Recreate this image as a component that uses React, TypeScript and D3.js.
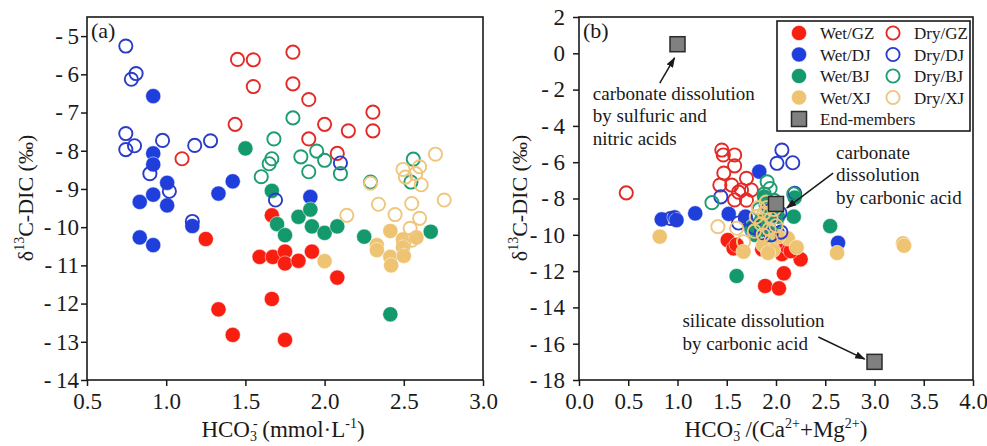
import * as d3 from "d3";
import { useEffect, useRef } from "react";

type Pt = [number, number];

// ---- panel (a): HCO3- (mmol/L) vs d13C-DIC ----
const aWetGZ: Pt[] = [
  [1.25, -10.31], [1.667, -9.69], [1.59, -10.78], [1.673, -10.78], [1.75, -10.64],
  [1.75, -10.95], [1.835, -10.88], [1.92, -10.64], [2.08, -11.32], [1.667, -11.88],
  [1.33, -12.15], [1.42, -12.82], [1.75, -12.95],
];
const aDryGZ: Pt[] = [
  [1.45, -5.61], [1.55, -5.62], [1.55, -6.32], [1.8, -5.42], [1.8, -6.25],
  [1.9, -6.66], [1.435, -7.31], [1.1, -8.21], [1.9, -7.69], [2.0, -7.31],
  [2.15, -7.48], [2.305, -6.99], [2.305, -7.48], [2.08, -8.07],
];
const aWetDJ: Pt[] = [
  [0.918, -6.57], [0.918, -8.07], [0.918, -8.36], [0.833, -9.34], [0.918, -9.15],
  [1.006, -8.84], [1.006, -9.43], [0.833, -10.27], [0.918, -10.47], [1.165, -9.97],
  [1.33, -9.12], [1.42, -8.8], [1.91, -9.21],
];
const aDryDJ: Pt[] = [
  [0.745, -5.26], [0.78, -6.13], [0.81, -5.98], [0.745, -7.55], [0.745, -7.97],
  [0.8, -7.87], [0.977, -7.73], [1.18, -7.86], [1.28, -7.74], [0.897, -8.6],
  [1.02, -9.06], [1.69, -9.29], [2.1, -8.32], [1.165, -9.85],
];
const aWetBJ: Pt[] = [
  [1.5, -7.94], [1.667, -9.05], [1.7, -9.92], [1.75, -10.21], [1.835, -9.73],
  [1.91, -9.54], [1.92, -9.98], [2.0, -10.15], [2.08, -9.98], [2.25, -10.25],
  [2.67, -10.12], [2.415, -12.28],
];
const aDryBJ: Pt[] = [
  [1.8, -7.14], [1.68, -7.69], [1.667, -8.21], [1.65, -8.34], [1.6, -8.68],
  [1.85, -8.16], [1.95, -8.01], [2.0, -8.25], [1.9, -8.55], [2.1, -8.6],
  [2.29, -8.82], [2.56, -8.22], [2.545, -8.82],
];
const aWetXJ: Pt[] = [
  [2.0, -10.89], [2.33, -10.47], [2.33, -10.6], [2.415, -10.1], [2.415, -10.78],
  [2.42, -11.0], [2.495, -10.32], [2.495, -10.53], [2.5, -10.75], [2.58, -10.27],
];
const aDryXJ: Pt[] = [
  [2.14, -9.69], [2.29, -8.85], [2.34, -9.4], [2.445, -9.67], [2.495, -8.49],
  [2.51, -8.69], [2.575, -8.6], [2.6, -8.42], [2.61, -8.89], [2.7, -8.09],
  [2.755, -9.29], [2.55, -9.38], [2.6, -9.77], [2.54, -10.03], [2.55, -10.34],
  [2.5, -10.43],
];

// ---- panel (b): HCO3-/(Ca2+ + Mg2+) vs d13C-DIC ----
const bWetGZ: Pt[] = [
  [1.51, -10.29], [1.57, -10.75], [2.25, -11.35], [2.08, -12.12], [1.89, -12.82],
  [2.03, -12.95], [2.06, -11.06], [1.6, -10.55], [1.95, -10.7], [1.86, -10.8],
  [2.1, -10.6], [2.0, -10.45], [2.15, -10.9],
];
const bDryGZ: Pt[] = [
  [0.48, -7.69], [1.45, -5.33], [1.465, -5.6], [1.58, -5.6], [1.58, -6.2],
  [1.47, -6.6], [1.43, -7.26], [1.55, -7.26], [1.7, -6.89], [1.65, -7.53],
  [1.75, -7.53], [1.58, -8.08], [1.7, -8.09], [1.62, -7.65],
];
const bWetDJ: Pt[] = [
  [0.84, -9.15], [0.97, -9.04], [0.99, -9.19], [1.18, -8.82], [1.52, -8.85],
  [1.83, -6.52], [2.63, -10.44], [1.69, -9.0], [1.77, -9.5], [1.87, -9.74],
  [2.02, -9.93], [1.75, -9.7], [1.9, -8.3],
];
const bDryDJ: Pt[] = [
  [2.06, -5.33], [2.01, -6.06], [2.17, -6.03], [2.19, -7.71], [1.44, -7.91],
  [0.93, -9.1], [2.04, -8.8], [1.69, -9.1], [1.78, -9.6], [1.85, -9.9],
  [2.05, -9.85], [1.95, -10.0], [1.62, -9.35], [1.97, -8.9],
];
const bWetBJ: Pt[] = [
  [1.6, -12.27], [2.55, -9.52], [2.18, -9.0], [2.19, -7.95], [1.79, -10.01],
  [1.75, -9.6], [1.9, -9.8], [1.96, -10.15], [1.85, -9.3], [2.02, -9.0],
  [1.88, -7.9], [1.93, -10.4],
];
const bDryBJ: Pt[] = [
  [1.35, -8.23], [1.91, -7.08], [1.94, -7.45], [1.88, -7.75], [2.18, -7.75],
  [1.9, -8.4], [1.96, -8.7], [1.85, -9.2], [1.92, -9.5], [2.0, -9.3],
  [1.98, -8.1], [1.83, -8.6],
];
const bWetXJ: Pt[] = [
  [0.82, -10.1], [3.29, -10.47], [3.3, -10.6], [2.62, -11.0], [1.67, -10.93],
  [1.87, -10.56], [1.97, -10.84], [2.12, -10.2], [2.21, -10.69], [2.02, -10.1],
  [1.92, -11.0],
];
const bDryXJ: Pt[] = [
  [1.41, -9.55], [1.6, -9.64], [1.67, -10.38], [1.82, -8.5], [1.88, -8.8],
  [1.95, -9.1], [1.85, -9.4], [1.93, -9.7], [1.9, -8.2], [1.98, -8.6],
  [1.8, -9.0], [2.0, -9.5], [1.87, -10.0], [1.95, -10.3], [1.78, -9.8],
  [1.91, -8.5],
];
const endMembers: Pt[] = [[1, 0.5], [2, -8.3], [3, -17]];

// tick labels
const aXTicks = [0.5, 1.0, 1.5, 2.0, 2.5, 3.0];
const aYTicks = [-14, -13, -12, -11, -10, -9, -8, -7, -6, -5];
const bXTicks = [0, 0.5, 1.0, 1.5, 2.0, 2.5, 3.0, 3.5, 4.0];
const bYTicks = [-18, -16, -14, -12, -10, -8, -6, -4, -2, 0, 2];

const FONT = '"Liberation Serif", "Times New Roman", serif';
const INK = "#1a1a1a";

const series = [
  { name: "Wet/GZ", a: aWetGZ, b: bWetGZ, color: "#f81e10", filled: true },
  { name: "Wet/DJ", a: aWetDJ, b: bWetDJ, color: "#1f3fdc", filled: true },
  { name: "Wet/BJ", a: aWetBJ, b: bWetBJ, color: "#13996b", filled: true },
  { name: "Wet/XJ", a: aWetXJ, b: bWetXJ, color: "#eec371", filled: true },
  { name: "Dry/GZ", a: aDryGZ, b: bDryGZ, color: "#e42a26", filled: false },
  { name: "Dry/DJ", a: aDryDJ, b: bDryDJ, color: "#2a3cc8", filled: false },
  { name: "Dry/BJ", a: aDryBJ, b: bDryBJ, color: "#1e9c72", filled: false },
  { name: "Dry/XJ", a: aDryXJ, b: bDryXJ, color: "#efc67c", filled: false },
];

const yFmt = (d: number) => (d < 0 ? `-\u2009${Math.abs(d)}` : `${d}`);

function dot(g: any, cx: number, cy: number, color: string, filled: boolean) {
  if (filled) {
    g.append("circle").attr("cx", cx).attr("cy", cy).attr("r", 7.6)
      .attr("fill", color).attr("stroke", "#fff").attr("stroke-opacity", 0.5).attr("stroke-width", 1);
  } else {
    g.append("circle").attr("cx", cx).attr("cy", cy).attr("r", 6.6)
      .attr("fill", "none").attr("stroke", color).attr("stroke-width", 1.9);
  }
}

function panel(svg: any, box: number[], xd: number[], yd: number[], xTicks: number[], yTicks: number[], yPad: number) {
  const [l, t, r, b] = box;
  const x = d3.scaleLinear().domain(xd).range([l, r]);
  const y = d3.scaleLinear().domain(yd).range([b, t]);

  const gx = svg.append("g").attr("transform", `translate(0,${b})`)
    .call(d3.axisBottom(x).tickValues(xTicks).tickFormat(d3.format(".1f")).tickSize(6).tickPadding(7).tickSizeOuter(0));
  const gy = svg.append("g").attr("transform", `translate(${l},0)`)
    .call(d3.axisLeft(y).tickValues(yTicks).tickFormat(yFmt as any).tickSize(6).tickPadding(yPad).tickSizeOuter(0));
  [gx, gy].forEach((g) => {
    g.select(".domain").remove();
    g.selectAll("line").attr("stroke", INK).attr("stroke-width", 1.5);
    g.selectAll("text").attr("font-family", FONT).attr("font-size", 23).attr("fill", INK);
  });

  svg.append("rect").attr("x", l).attr("y", t).attr("width", r - l).attr("height", b - t)
    .attr("fill", "none").attr("stroke", INK).attr("stroke-width", 1.6);
  return { x, y };
}

function yTitle(svg: any, cx: number, cy: number) {
  const t = svg.append("text").attr("transform", `translate(${cx},${cy}) rotate(-90)`)
    .attr("text-anchor", "middle").attr("font-family", FONT).attr("font-size", 22).attr("fill", INK);
  t.append("tspan").text("δ");
  t.append("tspan").attr("font-size", 14).attr("dy", -9).text("13");
  t.append("tspan").attr("dy", 9).text("C-DIC (‰)");
}

// HCO3- with the subscript 3 and the charge stacked
function hco3(t: any) {
  t.append("tspan").text("HCO");
  t.append("tspan").attr("font-size", 14).attr("dy", 4).text("3");
  t.append("tspan").attr("font-size", 14).attr("dx", -4).attr("dy", -13).text("-");
  t.append("tspan").attr("dy", 9).text("\u2009");
}

const App = () => {
  const ref = useRef<SVGSVGElement>(null);

  useEffect(() => {
    const svg = d3.select(ref.current);
    svg.selectAll("*").remove();

    const defs = svg.append("defs");
    defs.append("marker").attr("id", "arrow").attr("viewBox", "0 0 10 10")
      .attr("refX", 9).attr("refY", 5).attr("markerWidth", 7).attr("markerHeight", 7)
      .attr("orient", "auto")
      .append("path").attr("d", "M0,1.5 L10,5 L0,8.5 z").attr("fill", INK);

    // ---------- (a) ----------
    const A = panel(svg, [87, 17, 483, 380], [0.5, 3], [-14, -4.5], aXTicks, aYTicks, 2);
    series.forEach((s) => {
      const g = svg.append("g");
      s.a.forEach((d) => dot(g, A.x(d[0]), A.y(d[1]), s.color, s.filled));
    });
    svg.append("text").attr("x", 91).attr("y", 38).attr("font-family", FONT).attr("font-size", 22)
      .attr("fill", INK).text("(a)");
    const ax = svg.append("text").attr("x", 283).attr("y", 437).attr("text-anchor", "middle")
      .attr("font-family", FONT).attr("font-size", 23).attr("fill", INK);
    hco3(ax);
    ax.append("tspan").text("(mmol·L");
    ax.append("tspan").attr("font-size", 14).attr("dy", -9).text("-1");
    ax.append("tspan").attr("dy", 9).text(")");
    yTitle(svg, 33, 198);

    // ---------- (b) ----------
    const B = panel(svg, [579, 17, 973, 380], [0, 4], [-18, 2], bXTicks, bYTicks, 8);
    series.forEach((s) => {
      const g = svg.append("g");
      s.b.forEach((d) => dot(g, B.x(d[0]), B.y(d[1]), s.color, s.filled));
    });
    svg.append("g").selectAll("rect").data(endMembers).join("rect")
      .attr("x", (d: Pt) => B.x(d[0]) - 7.5).attr("y", (d: Pt) => B.y(d[1]) - 7.5)
      .attr("width", 15).attr("height", 15)
      .attr("fill", "#808080").attr("stroke", "#2a2a2a").attr("stroke-width", 1.5);

    svg.append("text").attr("x", 583).attr("y", 38).attr("font-family", FONT).attr("font-size", 22)
      .attr("fill", INK).text("(b)");

    // annotations
    const note = (x0: number, y0: number, lines: string[]) => {
      const t = svg.append("text").attr("font-family", FONT).attr("font-size", 19).attr("fill", INK);
      lines.forEach((ln, i) => {
        t.append("tspan").attr("x", B.x(x0)).attr("y", B.y(y0) + i * 22.5).text(ln);
      });
    };
    note(0.14, -2.57, ["carbonate dissolution", "by sulfuric and", "nitric acids"]);
    note(2.61, -5.82, ["carbonate", "dissolution", "by carbonic acid"]);
    note(1.05, -15.08, ["silicate dissolution", "by carbonic acid"]);

    const arrows: [Pt, Pt][] = [
      [[0.82, -1.64], [0.97, -0.25]],
      [[2.58, -6.6], [2.11, -8.52]],
      [[2.43, -15.63], [2.9, -16.85]],
    ];
    arrows.forEach(([p0, p1]) => {
      svg.append("line").attr("x1", B.x(p0[0])).attr("y1", B.y(p0[1]))
        .attr("x2", B.x(p1[0])).attr("y2", B.y(p1[1]))
        .attr("stroke", INK).attr("stroke-width", 1.5).attr("marker-end", "url(#arrow)");
    });

    const bx = svg.append("text").attr("x", 776).attr("y", 437).attr("text-anchor", "middle")
      .attr("font-family", FONT).attr("font-size", 23).attr("fill", INK);
    hco3(bx);
    bx.append("tspan").text("/(Ca");
    bx.append("tspan").attr("font-size", 14).attr("dy", -9).text("2+");
    bx.append("tspan").attr("dy", 9).text("+Mg");
    bx.append("tspan").attr("font-size", 14).attr("dy", -9).text("2+");
    bx.append("tspan").attr("dy", 9).text(")");
    yTitle(svg, 527, 198);

    // legend
    const lg = svg.append("g");
    lg.append("rect").attr("x", 777).attr("y", 21).attr("width", 193).attr("height", 110)
      .attr("fill", "#fff").attr("stroke", INK).attr("stroke-width", 1.6);
    const wet = series.filter((s) => s.filled);
    const dry = series.filter((s) => !s.filled);
    wet.forEach((s, i) => {
      const cy = 33 + i * 21.5;
      dot(lg, 799, cy, s.color, true);
      lg.append("text").attr("x", 820).attr("y", cy + 6).attr("font-family", FONT)
        .attr("font-size", 17).attr("fill", INK).text(s.name);
      dot(lg, 893, cy, dry[i].color, false);
      lg.append("text").attr("x", 914).attr("y", cy + 6).attr("font-family", FONT)
        .attr("font-size", 17).attr("fill", INK).text(dry[i].name);
    });
    const ey = 33 + 4 * 21.5;
    lg.append("rect").attr("x", 791.5).attr("y", ey - 7.5).attr("width", 15).attr("height", 15)
      .attr("fill", "#808080").attr("stroke", "#2a2a2a").attr("stroke-width", 1.5);
    lg.append("text").attr("x", 820).attr("y", ey + 6).attr("font-family", FONT)
      .attr("font-size", 17).attr("fill", INK).text("End-members");
  }, []);

  return (
    <svg ref={ref} width={987} height={446}
      style={{ position: "absolute", left: 0, top: 0, background: "#fff" }} />
  );
};

export default App;
